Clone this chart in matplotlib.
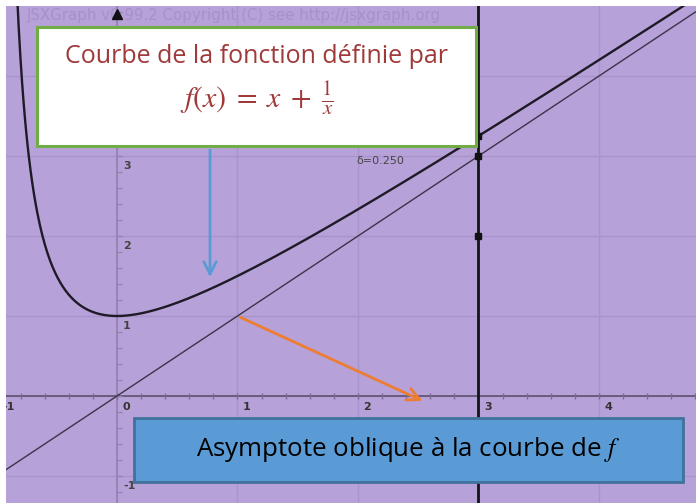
import matplotlib
matplotlib.use('Agg')
import matplotlib.pyplot as plt
from matplotlib.patches import Rectangle
import numpy as np

# view window of the JSXGraph board
x_min, x_max = -0.921, 4.805
y_min, y_max = -1.3375, 4.875

# function shown: y = x + 1/(x + 1), oblique asymptote y = x
pole = -1.0
slope, intercept = 1.0, 0.0

x_ticks = [-1, 0, 1, 2, 3, 4]
x_tick_labels = ['-1', '0', '1', '2', '3', '4']
y_ticks = [-1, 1, 2, 3]
y_tick_labels = ['-1', '1', '2', '3']

x_line = 3.0
points_y = [3.25, 3.0, 2.0]
delta_label = 'δ=0.250'

title_line1 = 'Courbe de la fonction définie par'
title_line2 = r'$f(x)\;=\;x\;+\;\frac{1}{x}$'
asym_label = r'Asymptote oblique à la courbe de $f$'

plt.rcParams['mathtext.fontset'] = 'stix'

fig = plt.figure(figsize=(6.96, 5.03), dpi=100)
ax = fig.add_axes([6/696, 0, 690/696, 497/503])
ax.set_xlim(x_min, x_max)
ax.set_ylim(y_min, y_max)
ax.set_facecolor('#b7a1d9')
for s in ax.spines.values():
    s.set_visible(False)
ax.set_xticks([])
ax.set_yticks([])

# grid
grid_c = '#a993cb'
for gx in range(-1, 5):
    ax.axvline(gx, color=grid_c, lw=1, zorder=1)
for gy in range(-1, 5):
    ax.axhline(gy, color=grid_c, lw=1, zorder=1)

# axes
ax.axhline(0, color='#5e5070', lw=1.2, zorder=2)
ax.axvline(0, color='#9482ae', lw=1.2, zorder=2)
minor = np.arange(-1, 5.01, 0.2)
ax.plot(minor, np.zeros_like(minor), '|', color='#7a6c92', ms=5, mew=1, zorder=2)
minor_y = np.arange(-1.2, 4.81, 0.2)
ax.plot(np.zeros_like(minor_y) + 0.02, minor_y, '_', color='#9585ae', ms=4, mew=1, zorder=2)
ax.plot([0], [4.77], '^', color='#111111', ms=7, zorder=3)

for t, lab in zip(x_ticks, x_tick_labels):
    ax.text(t + 0.045, -0.08, lab, fontsize=8, color='#333333', fontweight='bold',
            ha='left', va='top', clip_on=True, zorder=3)
for t, lab in zip(y_ticks, y_tick_labels):
    ax.text(0.05, t - 0.06, lab, fontsize=8, color='#444444', fontweight='bold',
            ha='left', va='top', zorder=3)

ax.text(-0.75, 4.76, 'JSXGraph v0.99.2 Copyright (C) see http://jsxgraph.org',
        fontsize=10.8, color='#a691c8', ha='left', va='center', zorder=2)

# asymptote and curve
xa = np.linspace(x_min, x_max, 200)
ax.plot(xa, slope * xa + intercept, color='#3a3448', lw=1, zorder=4)
xc = np.linspace(pole + 0.17, x_max, 800)
ax.plot(xc, xc + 1 / (xc - pole), color='#1e1a26', lw=1.7, zorder=4)

ax.axvline(x_line, color='#141414', lw=2, zorder=4)
ax.plot([x_line] * len(points_y), points_y, 's', color='#111111', ms=4, zorder=5)
ax.text(1.99, 2.94, delta_label, fontsize=8, color='#444444', ha='left', va='center', zorder=3)

# annotation boxes
ax.add_patch(Rectangle((-0.664, 3.125), 3.643, 1.4875, facecolor='white',
                       edgecolor='#70ad47', lw=2.2, zorder=6))
ax.text(1.157, 4.24, title_line1, fontsize=18, family='Open Sans', color='#a0393a',
        ha='center', va='center', zorder=7)
ax.text(1.157, 3.72, title_line2, fontsize=21.5, color='#a0393a',
        ha='center', va='center', zorder=7)

ax.add_patch(Rectangle((0.141, -1.075), 4.556, 0.8, facecolor='#5b9bd5',
                       edgecolor='#41719c', lw=2, zorder=6))
ax.text(2.415, -0.675, asym_label, fontsize=18.6, family='Open Sans', color='black',
        ha='center', va='center', zorder=7)

ax.annotate('', xy=(0.772, 1.45), xytext=(0.772, 3.11),
            arrowprops=dict(arrowstyle='->,head_length=0.9,head_width=0.45',
                            color='#5b9bd5', lw=2), zorder=7)
ax.annotate('', xy=(2.556, -0.075), xytext=(1.0, 1.0),
            arrowprops=dict(arrowstyle='->,head_length=0.9,head_width=0.45',
                            color='#ed7d31', lw=2), zorder=7)

fig.savefig('out.png', dpi=100, facecolor='white')
